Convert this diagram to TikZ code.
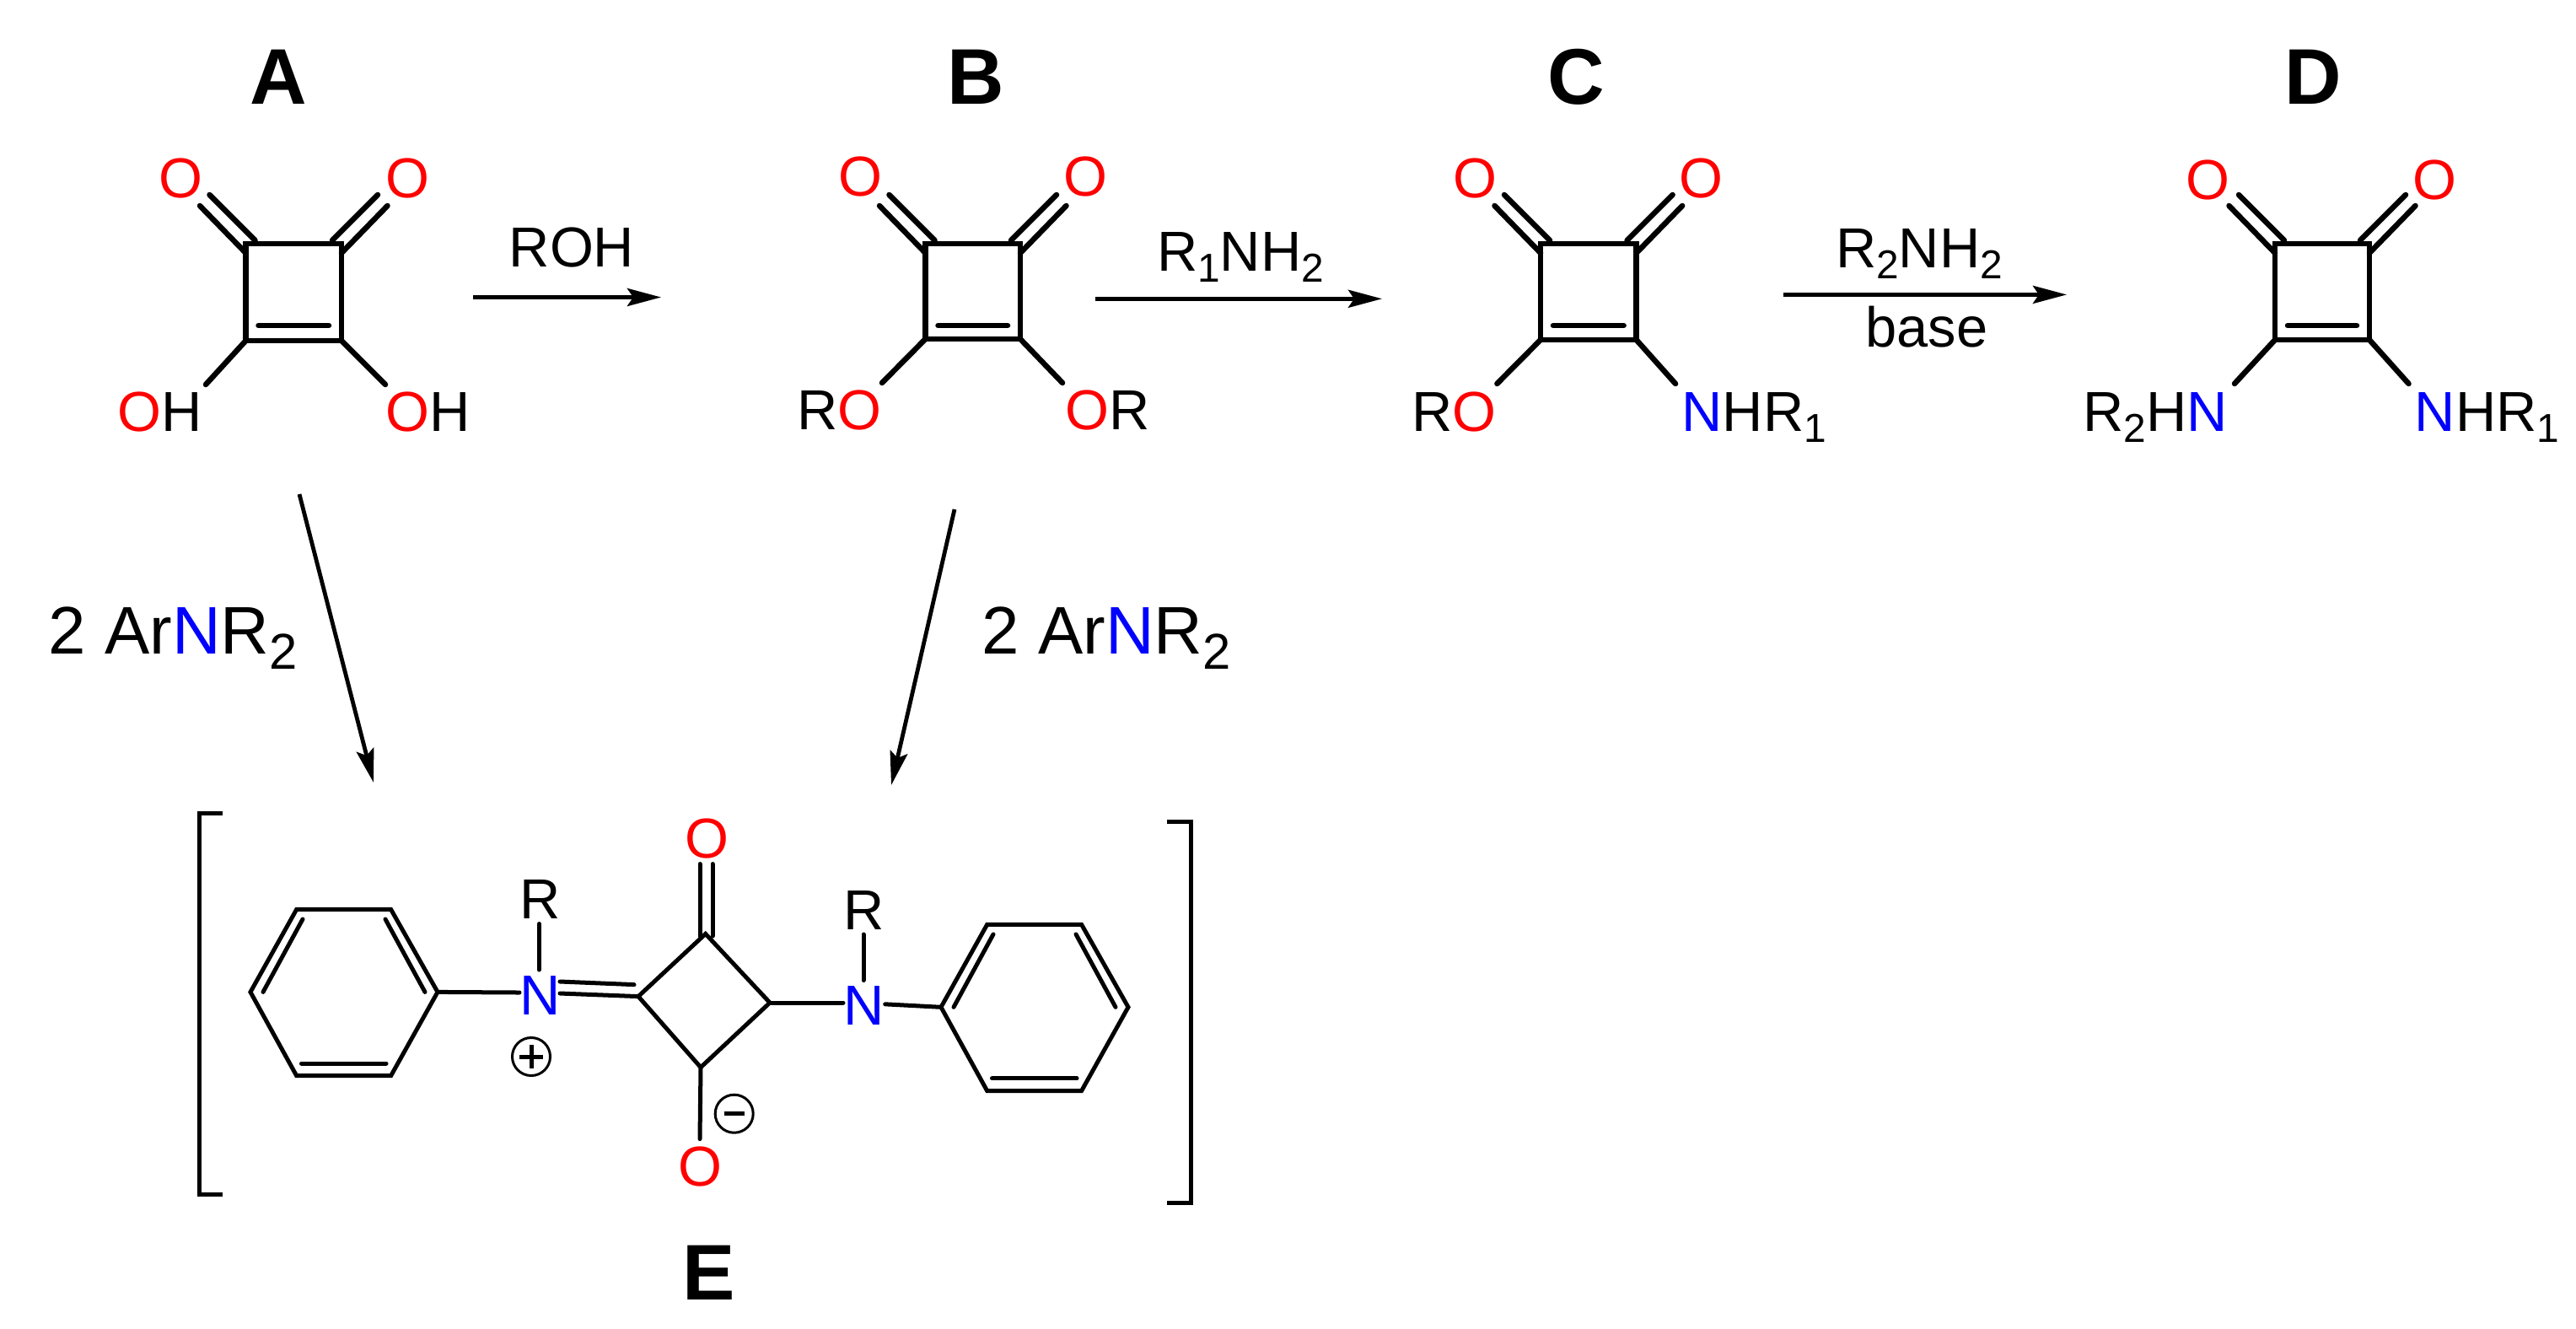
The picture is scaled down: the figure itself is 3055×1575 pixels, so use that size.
\documentclass[tikz,border=0pt]{standalone}
\usepackage{fontspec}
\setmainfont{Liberation Sans}
\usetikzlibrary{arrows.meta}
\newcommand{\lowidx}[1]{\raisebox{-0.13cm}{\fontsize{13.6pt}{13.6pt}\selectfont #1}}
\newcommand{\lowbig}[1]{\raisebox{-0.18cm}{\fontsize{17pt}{17pt}\selectfont #1}}
\tikzset{
  bond/.style={line width=0.065cm, line cap=round},
  thinbond/.style={line width=0.05cm, line cap=round},
  rxn/.style={line width=0.048cm, -{Stealth[length=0.4cm, width=0.21cm, inset=0.07cm]}},
  atom/.style={inner sep=0pt, font=\fontsize{19pt}{19pt}\selectfont},
  reagent/.style={inner sep=0pt, font=\fontsize{22.7pt}{22.7pt}\selectfont},
  cmpd/.style={inner sep=0pt, font=\fontsize{26.6pt}{26.6pt}\selectfont\bfseries},
  charge/.style={draw, circle, line width=0.03cm, inner sep=0pt, minimum size=0.45cm}
}
\newcommand{\Ored}{\textcolor{red}{O}}
\newcommand{\Nblue}{\textcolor{blue}{N}}
\begin{document}
\begin{tikzpicture}[x=0.01cm, y=-0.01cm]
  \useasboundingbox (0,0) rectangle (3055,1575);
  % squarate rings
  \foreach \m/\xl/\xr/\dl/\dr/\cap in {a/291.5/405/47.5/52/404, b/1097.5/1210/51.5/50/402, c/1827/1940.6/51.6/46.4/403, d/2698/2810/48/46.5/403}{
    \coordinate (\m TL) at (\xl,289);
    \coordinate (\m TR) at (\xr,289);
    \coordinate (\m BL) at (\xl,\cap);
    \coordinate (\m BR) at (\xr,\cap);
    \coordinate (\m OL) at (\xl-\dl,\cap+52);
    \coordinate (\m OR) at (\xr+\dr,\cap+52);
    \draw[bond, line join=miter] (\m TL) -- (\m TR) -- (\m BR) -- (\m BL) -- cycle;
    \draw[bond] (\xl+15,386) -- (\xr-15,386);
    \draw[bond] (\m BL) -- (\m OL);
    \draw[bond] (\m BR) -- (\m OR);
    % carbonyls
    \draw[bond] (\xl,300) -- (\xl-54.5,244);
    \draw[bond] (\xl+11,285) -- (\xl-43,231);
    \draw[bond] (\xr,300) -- (\xr+54.5,244);
    \draw[bond] (\xr-11,285) -- (\xr+43,231);
  }
  % compound labels
  \node[cmpd] (labA) at (330,91) {A};
  \node[cmpd] (labB) at (1157,91) {B};
  \node[cmpd] (labC) at (1869,91) {C};
  \node[cmpd] (labD) at (2743,91) {D};
  \node[cmpd] (labE) at (841,1509) {E};
  % atoms on the rings
  \node[atom, text=red] (aO1) at (214.5,211) {O};
  \node[atom, text=red] (aO2) at (483,211) {O};
  \node[atom, anchor=base west] (aOH1) at (139,511) {\Ored H};
  \node[atom, anchor=base west] (aOH2) at (457,511) {\Ored H};
  \node[atom, text=red] (bO1) at (1020,209) {O};
  \node[atom, text=red] (bO2) at (1287.5,209) {O};
  \node[atom, anchor=base west] (bOR1) at (945,509) {R\Ored};
  \node[atom, anchor=base west] (bOR2) at (1263,509) {\Ored R};
  \node[atom, text=red] (cO1) at (1749.5,211) {O};
  \node[atom, text=red] (cO2) at (2017.6,211) {O};
  \node[atom, anchor=base west] (cOR) at (1674,511) {R\Ored};
  \node[atom, anchor=base west] (cNH) at (1994,511) {\Nblue HR\lowidx{1}};
  \node[atom, text=red] (dO1) at (2618,213) {O};
  \node[atom, text=red] (dO2) at (2887,213) {O};
  \node[atom, anchor=base west] (dNH1) at (2470,511.7) {R\lowidx{2}H\Nblue};
  \node[atom, anchor=base west] (dNH2) at (2863,511.7) {\Nblue HR\lowidx{1}};
  % reaction arrows
  \coordinate (r1s) at (561,352.5);
  \coordinate (r1e) at (784,352.5);
  \coordinate (r2s) at (1298.5,354.3);
  \coordinate (r2e) at (1639,354.3);
  \coordinate (r3s) at (2115,349.4);
  \coordinate (r3e) at (2451,349.4);
  \coordinate (r4s) at (355,586);
  \coordinate (r4e) at (443,928);
  \coordinate (r5s) at (1132,604);
  \coordinate (r5e) at (1057,931);
  \foreach \s/\e in {r1s/r1e, r2s/r2e, r3s/r3e, r4s/r4e, r5s/r5e}{
    \draw[rxn] (\s) -- (\e);
  }
  \node[atom] (rohT) at (678,293.5) {ROH};
  \node[atom, anchor=base] (r1T) at (1471,321) {R\lowidx{1}NH\lowidx{2}};
  \node[atom, anchor=base] (r2T) at (2276,317.6) {R\lowidx{2}NH\lowidx{2}};
  \node[atom, anchor=base] (baseT) at (2285,411.4) {base};
  \node[reagent, anchor=base west] (arA) at (57,775.7) {2 Ar\Nblue R\lowbig{2}};
  \node[reagent, anchor=base west] (arB) at (1164,775.7) {2 Ar\Nblue R\lowbig{2}};
  % brackets
  \coordinate (bl1) at (264,964);
  \coordinate (bl2) at (236.5,964);
  \coordinate (bl3) at (236.5,1416);
  \coordinate (bl4) at (264,1416);
  \coordinate (br1) at (1384,974);
  \coordinate (br2) at (1412,974);
  \coordinate (br3) at (1412,1426);
  \coordinate (br4) at (1384,1426);
  \draw[line width=0.05cm] (bl1) -- (bl2) -- (bl3) -- (bl4);
  \draw[line width=0.05cm] (br1) -- (br2) -- (br3) -- (br4);
  % phenyl rings
  \foreach \h/\dx/\dy in {L/0/0, R/819/17.9}{
    \begin{scope}[shift={(\dx,\dy)}]
      \coordinate (\h1) at (351.7,1078.4);
      \coordinate (\h2) at (463.6,1078.4);
      \coordinate (\h3) at (519,1176.4);
      \coordinate (\h4) at (463.6,1275.7);
      \coordinate (\h5) at (351.7,1275.7);
      \coordinate (\h6) at (297,1176.4);
      \draw[thinbond, line join=miter] (\h1) -- (\h2) -- (\h3) -- (\h4) -- (\h5) -- (\h6) -- cycle;
      \draw[thinbond] (359,1090) -- (312,1176.4);
      \draw[thinbond] (457,1090) -- (504,1176.4);
      \draw[thinbond] (357.5,1261) -- (458,1261);
    \end{scope}
  }
  % central ring of E
  \coordinate (e1) at (836.7,1107.4);
  \coordinate (e2) at (913,1189);
  \coordinate (e3) at (831,1265.7);
  \coordinate (e4) at (757,1181.6);
  \draw[thinbond, line join=miter] (e1) -- (e2) -- (e3) -- (e4) -- cycle;
  \node[atom, text=blue] (eN1) at (641,1180.4) {N};
  \node[atom, text=blue] (eN2) at (1025,1192) {N};
  \node[atom] (eR1) at (641,1066.4) {R};
  \node[atom] (eR2) at (1025,1079.5) {R};
  \node[atom, text=red] (eO1) at (838,994) {O};
  \node[atom, text=red] (eO2) at (830,1383) {O};
  \draw[thinbond] (L3) -- (616,1177);
  \draw[thinbond] (639.4,1095.5) -- (639.4,1150);
  \draw[thinbond] (664,1178) -- (e4);
  \draw[thinbond] (664,1164) -- (752,1167.6);
  \draw[thinbond] (e2) -- (1000,1189);
  \draw[thinbond] (1024,1108) -- (1024,1162.5);
  \draw[thinbond] (1049.7,1190.8) -- (R6);
  \draw[thinbond] (830,1024.5) -- (830,1110);
  \draw[thinbond] (845,1024.5) -- (845,1110);
  \draw[thinbond] (e3) -- (830,1350.6);
  % charges
  \node[charge] (plusE) at (630,1253) {};
  \draw[line width=0.05cm] (plusE.center) ++(-14,0) -- ++(28,0);
  \draw[line width=0.05cm] (plusE.center) ++(0,-14) -- ++(0,28);
  \node[charge] (minusE) at (870.7,1320.7) {};
  \draw[line width=0.05cm] (minusE.center) ++(-12,0) -- ++(24,0);
\end{tikzpicture}
\end{document}
